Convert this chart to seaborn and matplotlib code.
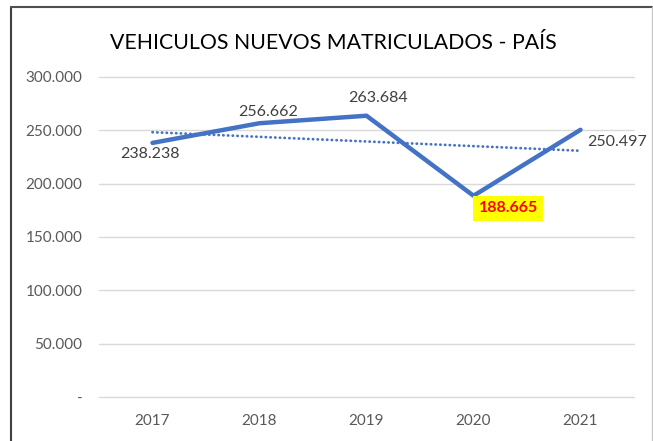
import numpy as np
import pandas as pd
import matplotlib.pyplot as plt
import seaborn as sns

years = ["2017", "2018", "2019", "2020", "2021"]
vehicles = [238238, 256662, 263684, 188665, 250497]
y_ticks = [0, 50000, 100000, 150000, 200000, 250000, 300000]
title = "VEHICULOS NUEVOS MATRICULADOS - PAÍS"

sns.set_style("white")
plt.rcParams["font.family"] = ["Lato", "DejaVu Sans"]

df = pd.DataFrame({"year": years, "vehicles": vehicles})
df["x"] = np.arange(len(df))

# linear trend like excel
coef = np.polyfit(df["x"], df["vehicles"], 1)
df["trend"] = np.polyval(coef, df["x"])


def fmt(v):
    return f"{v:,.0f}".replace(",", ".") if v else "-"


fig = plt.figure(figsize=(6.53, 4.41), dpi=100)
ax = fig.add_axes([99 / 653, 1 - 397 / 441, 535 / 653, 320 / 441])

sns.lineplot(data=df, x="x", y="trend", ax=ax, color="#4472C4", lw=2,
             linestyle=(0, (0.1, 1.6)), dash_capstyle="round")
sns.lineplot(data=df, x="x", y="vehicles", ax=ax, color="#4472C4", lw=3.2,
             solid_capstyle="round")

ax.set_xlim(-0.5, len(df) - 0.5)
ax.set_ylim(0, 300000)
ax.set_yticks(y_ticks)
ax.set_yticklabels([fmt(v) for v in y_ticks], color="#595959", fontsize=11)
ax.set_xticks(df["x"])
ax.set_xticklabels(years, color="#595959", fontsize=11)
ax.tick_params(length=0, pad=12)
ax.set_xlabel("")
ax.set_ylabel("")
ax.grid(axis="y", color="#D9D9D9", lw=1)
for gl in ax.get_ygridlines():
    gl.set_clip_on(False)
for s in ax.spines.values():
    s.set_visible(False)

# data labels
offsets = [(-2, -8), (6, 8), (8, 13), None, (26, -9)]
for i, (v, off) in enumerate(zip(vehicles, offsets)):
    if off is None:
        ax.annotate(fmt(v), (i, v), xytext=(25, -9), textcoords="offset points",
                    ha="center", va="center", color="red", fontsize=11.5,
                    fontweight="bold",
                    bbox=dict(boxstyle="square,pad=0.35", fc="yellow", ec="none"))
    else:
        ax.annotate(fmt(v), (i, v), xytext=off, textcoords="offset points",
                    ha="center", va="center", color="#404040", fontsize=11.5)

fig.text(333 / 653, 1 - 43 / 441, title, ha="center", va="center",
         fontsize=15.3, color="black")

# chart frame
fig.add_artist(plt.Line2D([11 / 653, 11 / 653], [0, 1 - 7 / 441], color="#404040", lw=1.5))
fig.add_artist(plt.Line2D([11 / 653, 652 / 653], [1 - 7 / 441, 1 - 7 / 441], color="#505050", lw=1.5))
fig.add_artist(plt.Line2D([651.5 / 653, 651.5 / 653], [0, 1 - 7 / 441], color="#C8C8C8", lw=1))

fig.savefig("out.png", dpi=100)
